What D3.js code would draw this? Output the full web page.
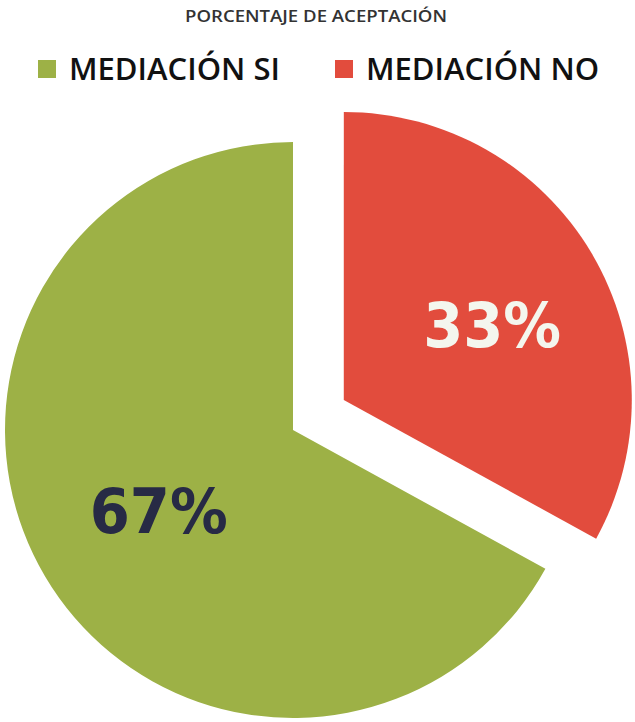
<!DOCTYPE html>
<html>
<head>
<meta charset="utf-8">
<script src="https://cdn.jsdelivr.net/npm/d3@7"></script>
<style>
  body { margin: 0; background: #fff; }
  svg { display: block; }
</style>
</head>
<body>
<div class="pie-chart"></div>
<script>
const categories = ["MEDIACIÓN SI", "MEDIACIÓN NO"];
const values = [67, 33];
const labels = ["67%", "33%"];
const title = "PORCENTAJE DE ACEPTACIÓN";

const width = 635, height = 722;
const colors = ["#9db146", "#e24c3d"];
const labelColors = ["#272a45", "#f4f6ee"];
const labelNudge = [[2, 0], [12, 5]]; // small visual tweak of label placement

const svg = d3.select(".pie-chart").append("svg")
  .attr("width", width)
  .attr("height", height);

svg.append("text")
  .attr("x", 316)
  .attr("y", 22)
  .attr("text-anchor", "middle")
  .attr("font-family", "'Open Sans', sans-serif")
  .attr("font-size", 16.5)
  .attr("font-weight", 600)
  .attr("textLength", 262)
  .attr("lengthAdjust", "spacingAndGlyphs")
  .attr("fill", "#333")
  .text(title);

// legend
const legendX = [38, 335];
const legend = svg.selectAll(".legend")
  .data(categories)
  .enter().append("g")
  .attr("class", "legend")
  .attr("transform", (d, i) => `translate(${legendX[i]},60)`);

legend.append("rect")
  .attr("width", 18)
  .attr("height", 18)
  .attr("fill", (d, i) => colors[i]);

legend.append("text")
  .attr("x", 31)
  .attr("y", 20)
  .attr("font-family", "'Open Sans', sans-serif")
  .attr("font-weight", 600)
  .attr("font-size", 31)
  .attr("fill", "#111")
  .text(d => d);

// pie
const r = 288;
const cx = 293, cy = 430;
const explode = 59;
const total = d3.sum(values);
const data = categories.map((c, i) => ({ name: c, value: values[i], label: labels[i], i }));

const pie = d3.pie()
  .sort(null)
  .value(d => d.value)
  .startAngle(-2 * Math.PI * values[0] / total)
  .endAngle(2 * Math.PI - 2 * Math.PI * values[0] / total);

const arc = d3.arc().innerRadius(0).outerRadius(r);
const labelArc = d3.arc().innerRadius(r * 0.55).outerRadius(r * 0.55);

const g = svg.append("g").attr("transform", `translate(${cx},${cy})`);

const slices = g.selectAll(".slice")
  .data(pie(data))
  .enter().append("g")
  .attr("class", "slice")
  .attr("transform", d => {
    if (d.data.i !== 1) return null;
    const a = (d.startAngle + d.endAngle) / 2;
    return `translate(${Math.sin(a) * explode},${-Math.cos(a) * explode})`;
  });

slices.append("path")
  .attr("d", arc)
  .attr("fill", d => colors[d.data.i]);

slices.append("text")
  .attr("transform", d => {
    const [x, y] = labelArc.centroid(d);
    const [nx, ny] = labelNudge[d.data.i];
    return `translate(${x + nx},${y + ny})`;
  })
  .attr("text-anchor", "middle")
  .attr("dy", "0.36em")
  .attr("font-family", "'DejaVu Sans', sans-serif")
  .attr("font-weight", "bold")
  .attr("font-size", 62)
  .attr("textLength", 138)
  .attr("lengthAdjust", "spacingAndGlyphs")
  .attr("fill", d => labelColors[d.data.i])
  .text(d => d.data.label);
</script>
</body>
</html>
